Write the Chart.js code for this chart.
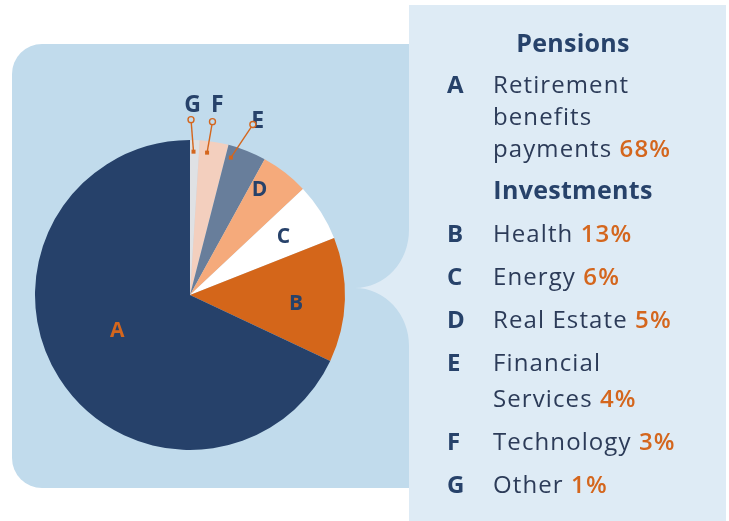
<!DOCTYPE html>
<html>
<head>
<meta charset="utf-8">
<script src="https://cdn.jsdelivr.net/npm/chart.js@4"></script>
<style>
  html, body { margin: 0; padding: 0; background: #fff; }
  #wrap { position: relative; width: 729px; height: 521px; overflow: hidden; }
  #c { position: absolute; left: 0; top: 0; }
  #panel {
    position: absolute; left: 409px; top: 5px; width: 317px; height: 516px;
    font-family: 'Open Sans', sans-serif; font-size: 24px; line-height: 32px;
    color: #2c3b58; padding-top: 21px; box-sizing: border-box;
  }
  .head { font-weight: 700; font-size: 25px; letter-spacing: 0.3px; text-align: center; padding-left: 11px; color: #27426a; }
  .row { display: flex; margin-top: 11px; }
  .let { width: 46px; padding-left: 38px; font-weight: 700; color: #27426a; flex: none; }
  .txt { white-space: pre-line; letter-spacing: 1.1px; }
  .pct { color: #d4661d; font-weight: 600; }
</style>
</head>
<body>
<div id="wrap">
  <canvas id="c" width="729" height="521"></canvas>
  <div id="panel"></div>
</div>
<script>
// legend order A..G
var letters = ['A', 'B', 'C', 'D', 'E', 'F', 'G'];
var names = ['Retirement\nbenefits\npayments', 'Health', 'Energy', 'Real Estate', 'Financial\nServices', 'Technology', 'Other'];
var shares = [68, 13, 6, 5, 4, 3, 1];
var groupTitles = ['Pensions', 'Investments'];
var groupStarts = [0, 1]; // index of first letter in each group

var sliceColors = ['#26416a', '#d4661a', '#ffffff', '#f5aa7b', '#687e9b', '#f3cfbe', '#dfe1e4'];

// label styling per letter (A..G)
var labelStyle = {
  A: { frac: 0.528, r: 0.52, color: '#d4661d' },
  B: { frac: 0.543, r: 0.685, color: '#27426a' },
  C: { frac: 0.495, r: 0.715, color: '#27426a' },
  D: { frac: 0.24, r: 0.82, color: '#27426a' },
  E: { frac: 0.15, r: 0.925, callout: [22, -33], text: [4.8, 3.2] },
  F: { frac: 0.3, r: 0.925, callout: [5.4, -31], text: [4.8, -9.3] },
  G: { frac: 0.39, r: 0.925, callout: [-2.5, -32], text: [1.5, -7.5] }
};

// pie runs clockwise from the top: G first, A last
var pieLabels = letters.slice().reverse();
var pieData = shares.slice().reverse();
var pieColors = sliceColors.slice().reverse();

// right panel text
var panel = document.getElementById('panel');
for (var i = 0; i < letters.length; i++) {
  var g = groupStarts.indexOf(i);
  if (g >= 0) {
    var h = document.createElement('div');
    h.className = 'head';
    h.textContent = groupTitles[g];
    if (g > 0) h.style.marginTop = '9px';
    panel.appendChild(h);
  }
  var row = document.createElement('div');
  row.className = 'row';
  if (i === 0) row.style.marginTop = '10px';
  if (i === 1) row.style.marginTop = '12px';
  if (names[i] === 'Financial\nServices') { row.style.lineHeight = '36px'; row.style.marginTop = '9px'; }
  if (i > 0 && names[i - 1] === 'Financial\nServices') row.style.marginTop = '9px';
  var l = document.createElement('div');
  l.className = 'let';
  l.textContent = letters[i];
  var t = document.createElement('div');
  t.className = 'txt';
  t.appendChild(document.createTextNode(names[i] + ' '));
  var p = document.createElement('span');
  p.className = 'pct';
  p.textContent = shares[i] + '%';
  t.appendChild(p);
  row.appendChild(l);
  row.appendChild(t);
  panel.appendChild(row);
}

var backdrop = {
  id: 'backdrop',
  beforeDraw: function(chart) {
    var ctx = chart.ctx;
    ctx.save();
    ctx.fillStyle = '#ffffff';
    ctx.fillRect(0, 0, chart.width, chart.height);
    ctx.fillStyle = '#c1dbec';
    ctx.beginPath();
    ctx.roundRect(12, 44, 460, 444, 30);
    ctx.fill();
    ctx.fillStyle = '#deebf5';
    ctx.fillRect(409, 5, 317, 516);
    // bracket
    ctx.beginPath();
    ctx.moveTo(409, 230);
    ctx.ellipse(355, 230, 54, 58, 0, 0, Math.PI / 2);
    ctx.ellipse(355, 346, 54, 58, 0, -Math.PI / 2, 0);
    ctx.lineTo(409, 230);
    ctx.fill();
    ctx.restore();
  }
};

var sliceLabels = {
  id: 'sliceLabels',
  afterDatasetsDraw: function(chart) {
    var ctx = chart.ctx;
    var meta = chart.getDatasetMeta(0);
    ctx.save();
    meta.data.forEach(function(arc, i) {
      var key = pieLabels[i];
      var s = labelStyle[key];
      var a = arc.startAngle + (arc.endAngle - arc.startAngle) * s.frac;
      var R = arc.outerRadius;
      var px = arc.x + Math.cos(a) * R * s.r;
      var py = arc.y + Math.sin(a) * R * s.r;
      ctx.textAlign = 'center';
      ctx.textBaseline = 'alphabetic';
      if (s.callout) {
        var cx = px + s.callout[0], cy = py + s.callout[1];
        ctx.strokeStyle = '#d4661d';
        ctx.fillStyle = '#d4661d';
        ctx.lineWidth = 1.4;
        var d = Math.hypot(cx - px, cy - py);
        ctx.beginPath();
        ctx.moveTo(px, py);
        ctx.lineTo(cx - (cx - px) / d * 3, cy - (cy - py) / d * 3);
        ctx.stroke();
        ctx.fillRect(px - 2, py - 2, 4, 4);
        ctx.font = 'bold 23px "Open Sans", sans-serif';
        ctx.fillStyle = '#27426a';
        ctx.fillText(key, cx + s.text[0], cy + s.text[1]);
        ctx.beginPath();
        ctx.arc(cx, cy, 3, 0, Math.PI * 2);
        ctx.fillStyle = '#c1dbec';
        ctx.fill();
        ctx.stroke();
      } else {
        ctx.font = 'bold 21px "Open Sans", sans-serif';
        ctx.fillStyle = s.color;
        ctx.fillText(key, px, py + 21 * 0.36);
      }
    });
    ctx.restore();
  }
};

new Chart(document.getElementById('c'), {
  type: 'pie',
  data: {
    labels: pieLabels,
    datasets: [{
      data: pieData,
      backgroundColor: pieColors,
      borderWidth: 0
    }]
  },
  options: {
    responsive: false,
    devicePixelRatio: 1,
    animation: false,
    layout: { padding: { left: 35, right: 384, top: 140, bottom: 71 } },
    plugins: {
      legend: { display: false },
      tooltip: { enabled: false }
    }
  },
  plugins: [backdrop, sliceLabels]
});
</script>
</body>
</html>
